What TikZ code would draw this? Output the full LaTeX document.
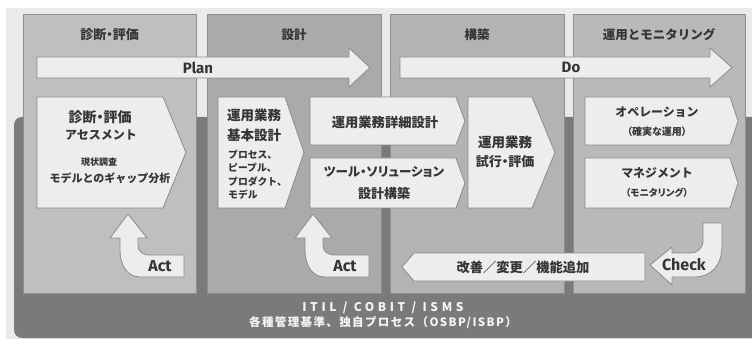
\documentclass[tikz,border=0pt]{standalone}
\usepackage{fontspec}
\setmainfont{Noto Sans CJK JP}
\newfontfamily\paltf{Noto Sans CJK JP}[RawFeature=+palt]
\newfontfamily\latinf{Fira Sans}
\newfontfamily\spacedf{Noto Sans CJK JP}[LetterSpace=12]
\newfontfamily\widef{Noto Sans CJK JP}[LetterSpace=30]
\newcommand\fsz[1]{\fontsize{#1}{#1}\selectfont}
\definecolor{bgl}{HTML}{EAEAEA}
\definecolor{darkb}{HTML}{7A7A7A}
\definecolor{colA}{HTML}{BFBFBF}
\definecolor{colB}{HTML}{AAAAAA}
\definecolor{colC}{HTML}{B3B3B3}
\definecolor{colD}{HTML}{B9B9B9}
\definecolor{colbd}{HTML}{8E8E8E}
\definecolor{boxf}{HTML}{EDEDED}
\definecolor{boxd}{HTML}{8A8A8A}
\definecolor{txt}{HTML}{353535}
\definecolor{wtxt}{HTML}{F4F4F4}
\tikzset{
  panel/.style={draw=colbd, line width=0.8pt},
  boxs/.style={fill=boxf, draw=boxd, line width=0.8pt, line join=round},
  lbl/.style={inner sep=0pt, text=txt, font=\bfseries\fsz{#1}},
  lblp/.style={inner sep=0pt, text=txt, font=\paltf\bfseries\fsz{#1}},
  lbll/.style={inner sep=0pt, text=txt, font=\latinf\bfseries\fsz{#1}},
}
\begin{document}
\begin{tikzpicture}[x=1pt,y=-1pt]
\useasboundingbox (0,0) rectangle (752,339);
\fill[white] (0,0) rectangle (752,339);
\fill[bgl] (6,8) rectangle (752,339);
\fill[darkb, rounded corners=8pt] (14,117) rectangle (775,338);
% columns
\path[panel, fill=colA] (23,14) rectangle (196,293);
\path[panel, fill=colB] (207,14) rectangle (381,293);
\path[panel, fill=colC] (390,14) rectangle (564,293);
\path[panel, fill=colD] (573,14) rectangle (745,293);
% headers
\node[lblp=13] (h1) at (109.5,35) {診断・評価};
\node[lbl=12.5] (h2) at (294,35) {設計};
\node[lbl=12.5] (h3) at (477,35) {構築};
\node[lbl=12.5] (h4) at (659,35) {運用とモニタリング};
% Plan / Do arrows
\path[boxs] (37,57) -- (349,57) -- (349,48) -- (370,67.5) -- (349,87) -- (349,78) -- (37,78) -- cycle;
\node[lbll=15] (plan) at (198,67.5) {Plan};
\path[boxs] (400,57) -- (710,57) -- (710,48) -- (732,67.5) -- (710,87) -- (710,78) -- (400,78) -- cycle;
\node[lbll=15] (do) at (571,67.5) {Do};
% column 1 box
\path[boxs] (37,97) -- (163,97) -- (186,152.5) -- (163,208) -- (37,208) -- cycle;
\node[lblp=14] (a1) at (100,117) {診断・評価};
\node[lbl=12] (a2) at (101,135) {アセスメント};
\node[lbl=9] (a3) at (99,162) {現状調査};
\node[lbl=11] (a4) at (110,178) {モデルとのギャップ分析};
% column 2 boxes
\path[boxs] (218,97) -- (285,97) -- (304,152.5) -- (285,208) -- (218,208) -- cycle;
\node[lbl=13.5, anchor=west] (b1) at (227,115) {運用業務};
\node[lbl=13.5, anchor=west] (b2) at (227,135) {基本設計};
\node[lbl=9.8, anchor=west] (b3) at (228,155) {プロセス、};
\node[lbl=9.8, anchor=west] (b4) at (228,168) {ピープル、};
\node[lbl=9.8, anchor=west] (b5) at (228,181.5) {プロダクト、};
\node[lbl=9.8, anchor=west] (b6) at (228,195) {モデル};
\path[boxs] (310,97) -- (456,97) -- (465,121) -- (456,145) -- (310,145) -- cycle;
\node[lbl=13.3] (c1) at (385,122) {運用業務詳細設計};
\path[boxs] (310,158) -- (456,158) -- (465,183) -- (456,208) -- (310,208) -- cycle;
\node[lblp=12.5] (d1) at (384,172) {ツール・ソリューション};
\node[lbl=13] (d2) at (384,193) {設計構築};
% column 3 box
\path[boxs] (468,97) -- (532,97) -- (555,152.5) -- (532,208) -- (468,208) -- cycle;
\node[lbl=13.5] (e1) at (505,142) {運用業務};
\node[lblp=13] (e2) at (505,162) {試行・評価};
% column 4 boxes
\path[boxs] (585,97) -- (730,97) -- (738,121) -- (730,145) -- (585,145) -- cycle;
\node[lbl=11.9] (f1) at (657,112) {オペレーション};
\node[lblp=10] (f2) at (657,132) {（確実な運用）};
\path[boxs] (585,158) -- (730,158) -- (738,183) -- (730,208) -- (585,208) -- cycle;
\node[lbl=11.9] (g1) at (657,173) {マネジメント};
\node[lblp=9.5] (g2) at (657,193) {（モニタリング）};
% Act arrows
\foreach \dx/\nm in {0/act1, 185/act2}{
  \begin{scope}[xshift=\dx]
    \path[boxs] (128,214) -- (147,238) -- (138,238) -- (138,245)
      .. controls (138,251) and (142,255) .. (150,255) -- (184,255) -- (184,277) -- (140,277)
      .. controls (127,277) and (120,265) .. (120,250) -- (120,238) -- (110,238) -- cycle;
    \node[lbll=16] (\nm) at (160,266.5) {Act};
  \end{scope}
}
% improvement arrow
\path[boxs] (402,267) -- (414,253) -- (645,253) -- (645,281) -- (414,281) -- cycle;
\node[lbl=13.3] (imp) at (523,267) {改善／変更／機能追加};
% Check arrow
\path[boxs] (650,265) -- (672,247) -- (672,253) -- (690,253)
  .. controls (698,253) and (703,248) .. (703,240) -- (703,223) -- (722,223) -- (722,245)
  .. controls (722,265) and (712,277) .. (694,277) -- (672,277) -- (672,285) -- cycle;
\node[lbll=16] (chk) at (684,265) {Check};
% bottom text
\node[inner sep=0pt, text=wtxt, font=\widef\bfseries\fsz{12}] (std1) at (383,308) {ITIL / COBIT / ISMS};
\node[inner sep=0pt, text=wtxt, font=\spacedf\bfseries\fsz{11.5}] (std2) at (383,323) {各種管理基準、独自プロセス（OSBP/ISBP）};
\end{tikzpicture}
\end{document}
